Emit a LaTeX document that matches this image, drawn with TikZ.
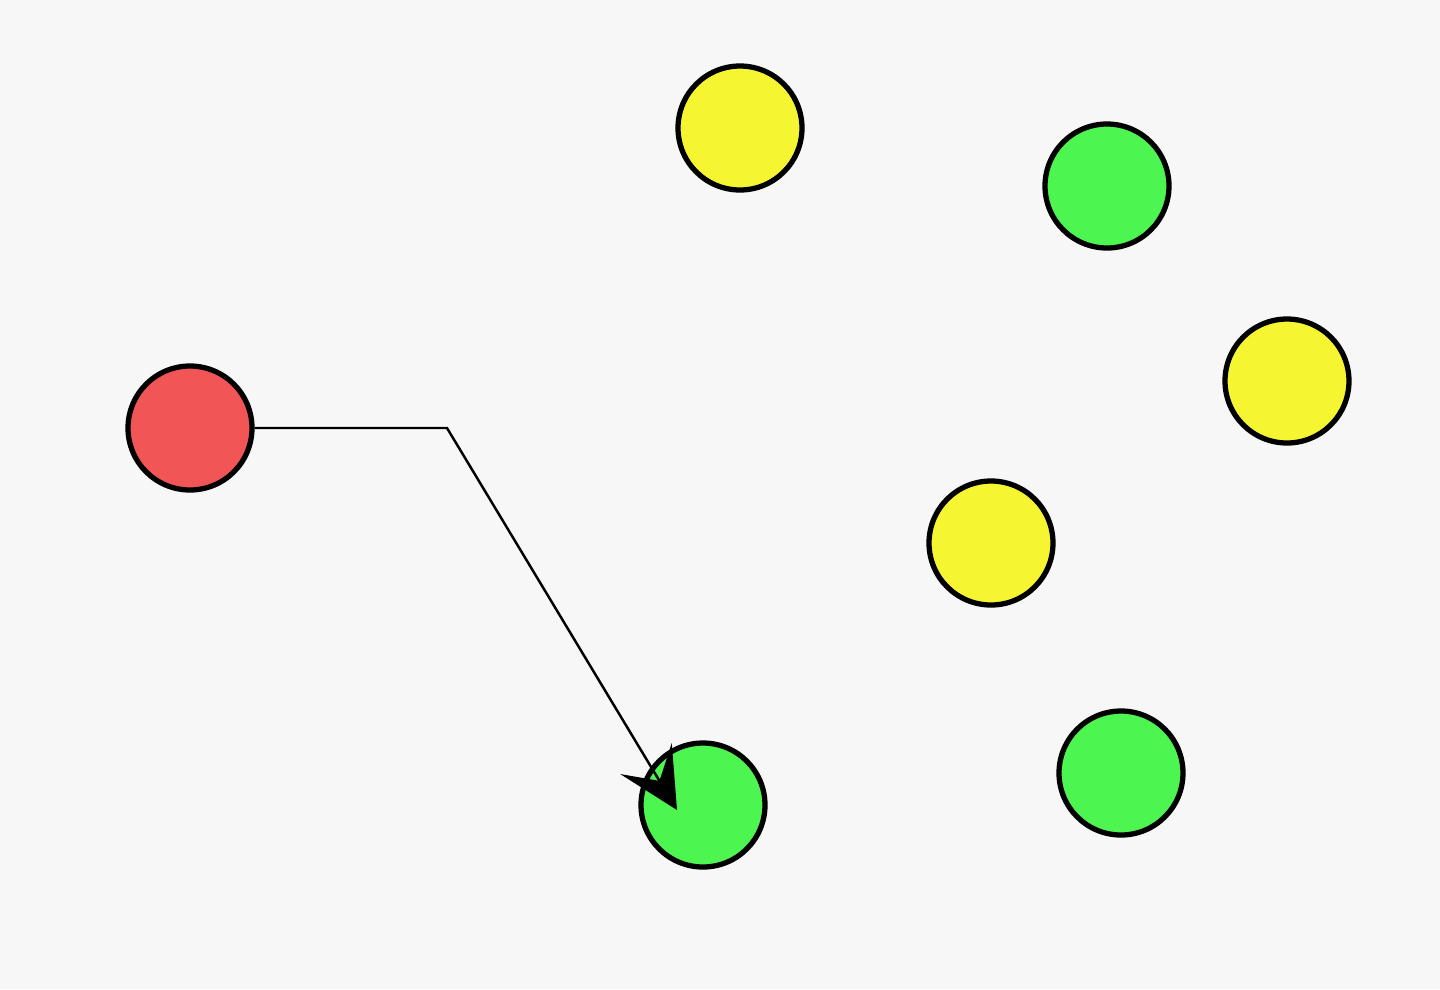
\documentclass[tikz,border=0pt]{standalone}
\usetikzlibrary{positioning, arrows.meta}
\definecolor{bgcol}{HTML}{F7F7F7}
\definecolor{redball}{HTML}{F25555}
\definecolor{yellowball}{HTML}{F5F532}
\definecolor{greenball}{HTML}{4CF550}
\begin{document}
\begin{tikzpicture}[>={Stealth[length=6mm,width=6mm,inset=2.6mm]},every node/.style={shape=circle,draw,line width=1.5pt,minimum size=1.24cm,inner sep=0pt},]
	    % background
	    \fill[bgcol] (0,0) rectangle (14.4,-9.89);
	    \useasboundingbox (0,0) rectangle (14.4,-9.89);
	    % create the nodes
		    \node[fill=redball] (r1) at (1.90,-4.28) {}; %start
		    \node[fill=yellowball] (y1) at (7.40,-1.28) {};
		    \node[fill=greenball] (g1) at (11.07,-1.86) {};
		    \node[fill=yellowball] (y2) at (12.87,-3.81) {};
		    \node[fill=yellowball] (y3) at (9.91,-5.43) {};
		    \node[fill=greenball] (g2) at (11.21,-7.73) {};
		    \node[fill=greenball] (g3) at (7.03,-8.05) {}; %target
		    \coordinate (bend) at (4.47,-4.28);
		    \coordinate (tip) at (6.77,-8.10);
		    % connector
		    \draw[->,line width=0.7pt] (r1.east) -- (bend) -- (tip);
		\end{tikzpicture}
\end{document}
